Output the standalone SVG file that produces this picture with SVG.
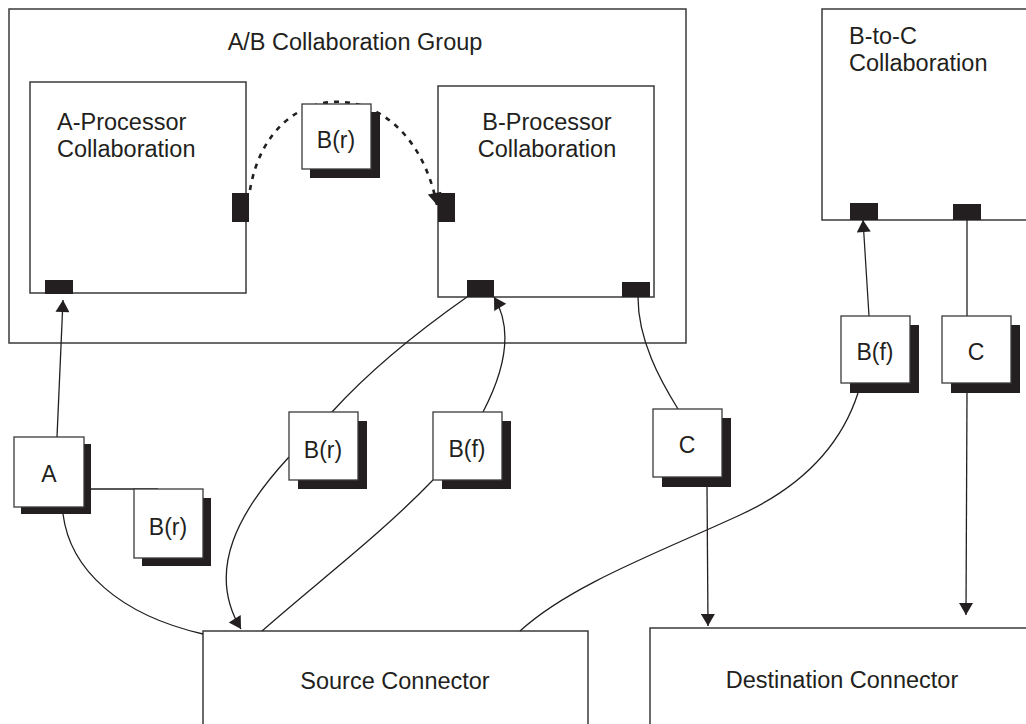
<svg xmlns="http://www.w3.org/2000/svg" width="1026" height="724" viewBox="0 0 1026 724">
<defs>
<style>
.box{fill:#fff;stroke:#3a3a3a;stroke-width:1.5}
.port{fill:#231f20}
.shadow{fill:#231f20}
.msg{fill:#fff;stroke:#3a3a3a;stroke-width:1.3}
.lbl{font-family:"Liberation Sans",Arial,sans-serif;font-size:23.5px;fill:#231f20}
.mlbl{font-family:"Liberation Sans",Arial,sans-serif;font-size:23px;fill:#231f20;text-anchor:middle}
.conn{fill:none;stroke:#231f20;stroke-width:1.3}
.dash{fill:none;stroke:#231f20;stroke-width:2.6;stroke-dasharray:5 6}
</style>
<marker id="arr" markerUnits="userSpaceOnUse" markerWidth="14" markerHeight="14" viewBox="0 0 12 14" refX="12" refY="7" orient="auto">
<path d="M0,0 L12,7 L0,14 Z" fill="#231f20"/>
</marker>
</defs>

<g id="ab-group">
<rect class="box" x="9" y="9" width="677" height="334"/>
<text class="lbl" x="355" y="50" text-anchor="middle">A/B Collaboration Group</text>
</g>

<g id="a-processor">
<rect class="box" x="30" y="82" width="216" height="211"/>
<text class="lbl" x="57" y="130">A-Processor</text>
<text class="lbl" x="57" y="157">Collaboration</text>
</g>

<g id="b-processor">
<rect class="box" x="438" y="86" width="216" height="211"/>
<text class="lbl" x="547" y="130" text-anchor="middle">B-Processor</text>
<text class="lbl" x="547" y="157" text-anchor="middle">Collaboration</text>
</g>

<g id="b-to-c">
<rect class="box" x="822" y="9" width="260" height="211"/>
<text class="lbl" x="849" y="44">B-to-C</text>
<text class="lbl" x="849" y="71">Collaboration</text>
</g>

<g id="source-connector">
<rect class="box" x="203" y="631" width="385" height="120"/>
<text class="lbl" x="395" y="689" text-anchor="middle">Source Connector</text>
</g>

<g id="destination-connector">
<rect class="box" x="650" y="628" width="390" height="120"/>
<text class="lbl" x="842" y="688" text-anchor="middle">Destination Connector</text>
</g>

<g id="connectors">
<path class="dash" d="M250,190 C270,70 410,70 437,205" marker-end="url(#arr)"/>
<path class="conn" d="M57,437 L63,300" marker-end="url(#arr)"/>
<path class="conn" d="M91,489 L158,489"/>
<path class="conn" d="M63,514 C70,570 120,615 203,634"/>
<path class="conn" d="M332,412 C370,370 420,330 467,297"/>
<path class="conn" d="M289,457 C240,510 205,570 241,629" marker-end="url(#arr)"/>
<path class="conn" d="M483,412 C505,370 514,330 494,297" marker-end="url(#arr)"/>
<path class="conn" d="M433,480 C380,535 320,580 262,631"/>
<path class="conn" d="M638,297 C638,340 660,380 678,409"/>
<path class="conn" d="M707,487 L708,626" marker-end="url(#arr)"/>
<path class="conn" d="M869,316 L863,220" marker-end="url(#arr)"/>
<path class="conn" d="M858,393 C838,455 790,492 740,515 C660,552 570,585 520,631"/>
<path class="conn" d="M967,219 L967,316"/>
<path class="conn" d="M967,393 L966,615" marker-end="url(#arr)"/>
</g>

<g id="ports">
<rect class="port" x="45" y="280" width="28" height="14"/>
<rect class="port" x="232" y="193" width="17" height="29"/>
<rect class="port" x="438" y="193" width="17" height="29"/>
<rect class="port" x="467" y="280" width="27" height="17"/>
<rect class="port" x="622" y="282" width="28" height="15"/>
<rect class="port" x="850" y="203" width="28" height="17"/>
<rect class="port" x="953" y="204" width="28" height="16"/>
</g>

<g id="msg-br-top">
<rect class="shadow" x="310" y="112" width="70" height="66"/>
<rect class="msg" x="302" y="104" width="69" height="65"/>
<text class="mlbl" x="336" y="148">B(r)</text>
</g>

<g id="msg-a">
<rect class="shadow" x="21" y="444" width="70" height="70"/>
<rect class="msg" x="14" y="437" width="70" height="70"/>
<text class="mlbl" x="49" y="482">A</text>
</g>

<g id="msg-br-low">
<rect class="shadow" x="142" y="498" width="69" height="68"/>
<rect class="msg" x="134" y="489" width="69" height="69"/>
<text class="mlbl" x="168" y="535">B(r)</text>
</g>

<g id="msg-br-mid">
<rect class="shadow" x="298" y="421" width="69" height="68"/>
<rect class="msg" x="289" y="412" width="69" height="68"/>
<text class="mlbl" x="323" y="458">B(r)</text>
</g>

<g id="msg-bf-mid">
<rect class="shadow" x="442" y="421" width="69" height="68"/>
<rect class="msg" x="433" y="412" width="69" height="68"/>
<text class="mlbl" x="467" y="457">B(f)</text>
</g>

<g id="msg-c-mid">
<rect class="shadow" x="662" y="418" width="69" height="69"/>
<rect class="msg" x="653" y="409" width="69" height="68"/>
<text class="mlbl" x="687" y="453">C</text>
</g>

<g id="msg-bf-right">
<rect class="shadow" x="850" y="325" width="69" height="68"/>
<rect class="msg" x="841" y="316" width="69" height="67"/>
<text class="mlbl" x="875" y="360">B(f)</text>
</g>

<g id="msg-c-right">
<rect class="shadow" x="951" y="325" width="69" height="68"/>
<rect class="msg" x="942" y="316" width="69" height="67"/>
<text class="mlbl" x="976" y="360">C</text>
</g>
</svg>
